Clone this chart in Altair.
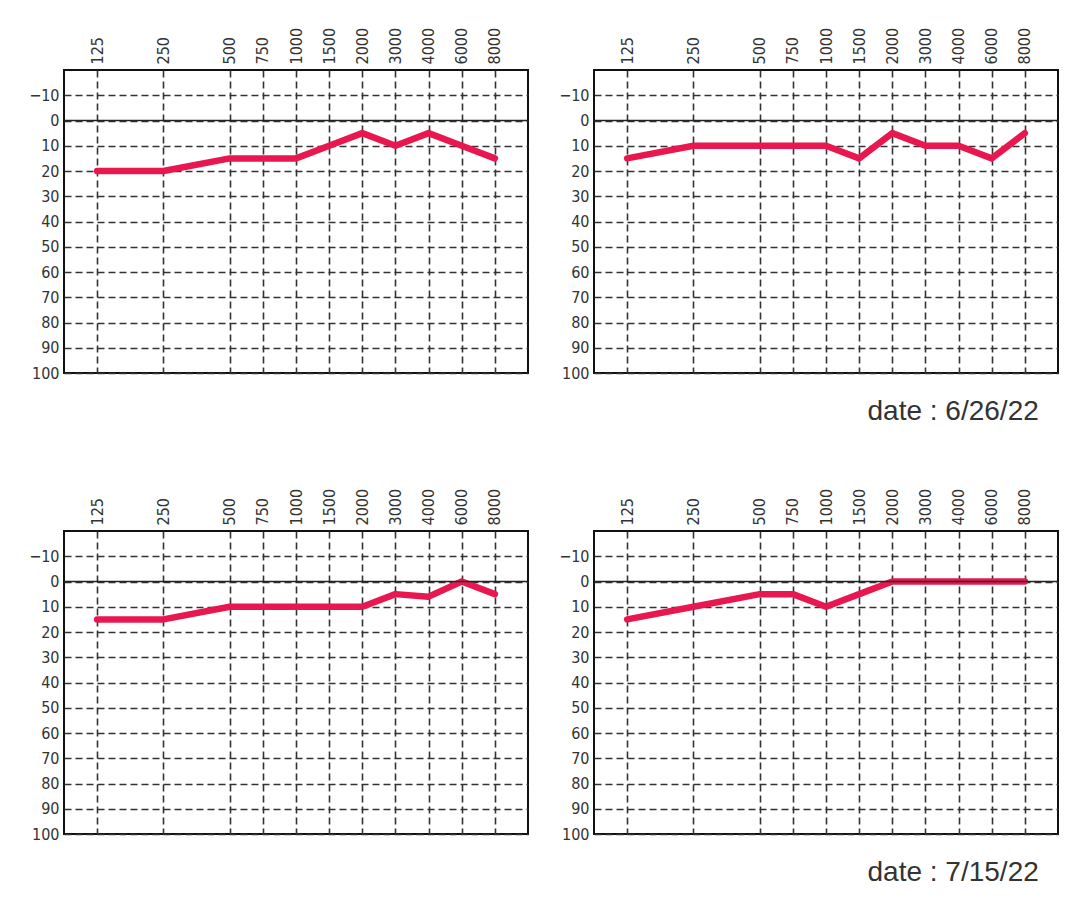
import pandas as pd
import altair as alt

# audiogram frequency columns (Hz) and the slot each one takes on the chart
freqs = ["125", "250", "500", "750", "1000", "1500", "2000", "3000", "4000", "6000", "8000"]
slots = [0, 2, 4, 5, 6, 7, 8, 9, 10, 11, 12]
db_ticks = [-10, 0, 10, 20, 30, 40, 50, 60, 70, 80, 90, 100]

# hearing level (dB) per panel
top_left = [20, 20, 15, 15, 15, 10, 5, 10, 5, 10, 15]
top_right = [15, 10, 10, 10, 10, 15, 5, 10, 10, 15, 5]
bottom_left = [15, 15, 10, 10, 10, 10, 10, 5, 6, 0, 5]
bottom_right = [15, 10, 5, 5, 10, 5, 0, 0, 0, 0, 0]

dates = ["date : 6/26/22", "date : 7/15/22"]

label_font = "Liberation Sans Narrow, DejaVu Sans Condensed, Liberation Sans"

# labels indexed by slot, empty where no frequency sits
slot_labels = [""] * 13
for f, s in zip(freqs, slots):
    slot_labels[s] = f
label_expr = "[" + ",".join("'%s'" % l for l in slot_labels) + "][datum.value]"


def panel(levels, date=None):
    df = pd.DataFrame({"freq": freqs, "slot": slots, "level": levels})
    x = alt.X("slot:Q", title=None,
              scale=alt.Scale(domain=[-1, 13], nice=False, zero=False),
              axis=alt.Axis(orient="top", values=slots, labelExpr=label_expr,
                            labelAngle=-90, labelPadding=6, ticks=False,
                            domain=False, grid=True, labelOverlap=False))
    y = alt.Y("level:Q", title=None,
              scale=alt.Scale(domain=[-20, 100], reverse=True, nice=False, zero=False),
              axis=alt.Axis(values=db_ticks, labelPadding=5, ticks=False,
                            domain=False, grid=True, labelOverlap=False))
    # solid 0 dB reference line; same y definition so the axes merge cleanly
    zero = alt.Chart(pd.DataFrame({"level": [0]})).mark_rule(
        color="#222", strokeWidth=1.6).encode(y=y)
    line = alt.Chart(df).mark_line(
        color="#E8174F", strokeWidth=6.5, strokeCap="round", strokeJoin="round"
    ).encode(x=x, y=y)
    chart = alt.layer(line, zero).properties(width=464, height=303)
    if date:
        chart = chart.properties(title=alt.TitleParams(
            date, orient="bottom", anchor="end", fontSize=28,
            font="Liberation Sans", fontWeight="normal", color="#333",
            offset=17, dx=-20))
    return chart


row1 = alt.hconcat(panel(top_left), panel(top_right, dates[0]), spacing=27)
row2 = alt.hconcat(panel(bottom_left), panel(bottom_right, dates[1]), spacing=27)

chart = alt.vconcat(row1, row2, spacing=60).properties(
    padding={"left": 19, "top": 18, "right": 5, "bottom": 5},
    background="white"
).configure_view(
    stroke="#111", strokeWidth=2
).configure_axis(
    labelFont=label_font, labelFontSize=16, labelColor="#333",
    gridColor="#333", gridWidth=1.6, gridDash=[7, 4], gridOpacity=1
)

chart.save("out.html", embed_options={"renderer": "svg", "actions": False})
